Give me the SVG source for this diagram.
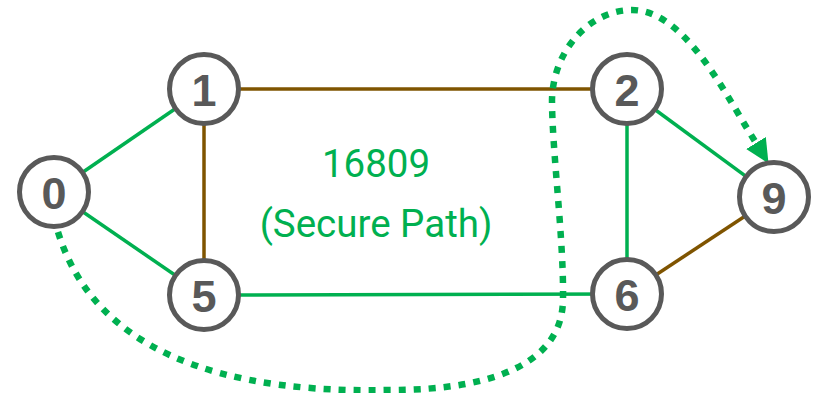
<svg xmlns="http://www.w3.org/2000/svg" width="814" height="393" viewBox="0 0 814 393">
  <style>
    .edge { fill: none; stroke-width: 3.5; }
    .green { stroke: #00B050; }
    .brown { stroke: #7F5400; }
    .route { fill: none; stroke: #00B050; stroke-width: 6.5; stroke-dasharray: 7 8; }
    .node circle { fill: #FFFFFF; stroke: #595959; stroke-width: 5; }
    .node text { font-family: "Liberation Sans", Arial, sans-serif; font-weight: bold; font-size: 45px; fill: #595959; text-anchor: middle; }
    .label { font-family: Roboto, "Liberation Sans", sans-serif; font-size: 38.5px; fill: #00B050; text-anchor: middle; }
  </style>
  <defs>
    <marker id="arrow" markerUnits="userSpaceOnUse" viewBox="0 0 24 23" refX="0" refY="11.5" markerWidth="24" markerHeight="23" orient="auto">
      <path d="M0,0 L24,11.5 L0,23 z" fill="#00B050"/>
    </marker>
  </defs>

  <g id="connectors">
    <line class="edge green" x1="54" y1="192" x2="204" y2="89"/>
    <line class="edge green" x1="54" y1="192" x2="204" y2="295"/>
    <line class="edge brown" x1="204" y1="89" x2="627" y2="89"/>
    <line class="edge brown" x1="204" y1="89" x2="204" y2="295"/>
    <line class="edge green" x1="204" y1="295" x2="627" y2="294"/>
    <line class="edge green" x1="627" y1="89" x2="627" y2="294"/>
    <line class="edge green" x1="627" y1="89" x2="774" y2="197"/>
    <line class="edge brown" x1="627" y1="294" x2="774" y2="197"/>
    <path class="route" marker-end="url(#arrow)" d="M58,232 C85,320 170,395 390,390 C500,390 562,360 563,300 C564,240 552,150 552,100 C553,50 590,10 632,10 C680,10 718,80 745,125 L756,143"/>
  </g>

  <g id="label">
    <text class="label" x="376" y="177">16809</text>
    <text class="label" x="376" y="237">(Secure Path)</text>
  </g>

  <g id="node-0" class="node"><circle cx="54" cy="192" r="34.5"/><text x="54" y="209">0</text></g>
  <g id="node-1" class="node"><circle cx="204" cy="89" r="34.5"/><text x="204" y="106">1</text></g>
  <g id="node-5" class="node"><circle cx="204" cy="295" r="34.5"/><text x="204" y="312">5</text></g>
  <g id="node-2" class="node"><circle cx="627" cy="89" r="34.5"/><text x="627" y="106">2</text></g>
  <g id="node-6" class="node"><circle cx="627" cy="294" r="34.5"/><text x="627" y="311">6</text></g>
  <g id="node-9" class="node"><circle cx="774" cy="197" r="34.5"/><text x="774" y="214">9</text></g>
</svg>
